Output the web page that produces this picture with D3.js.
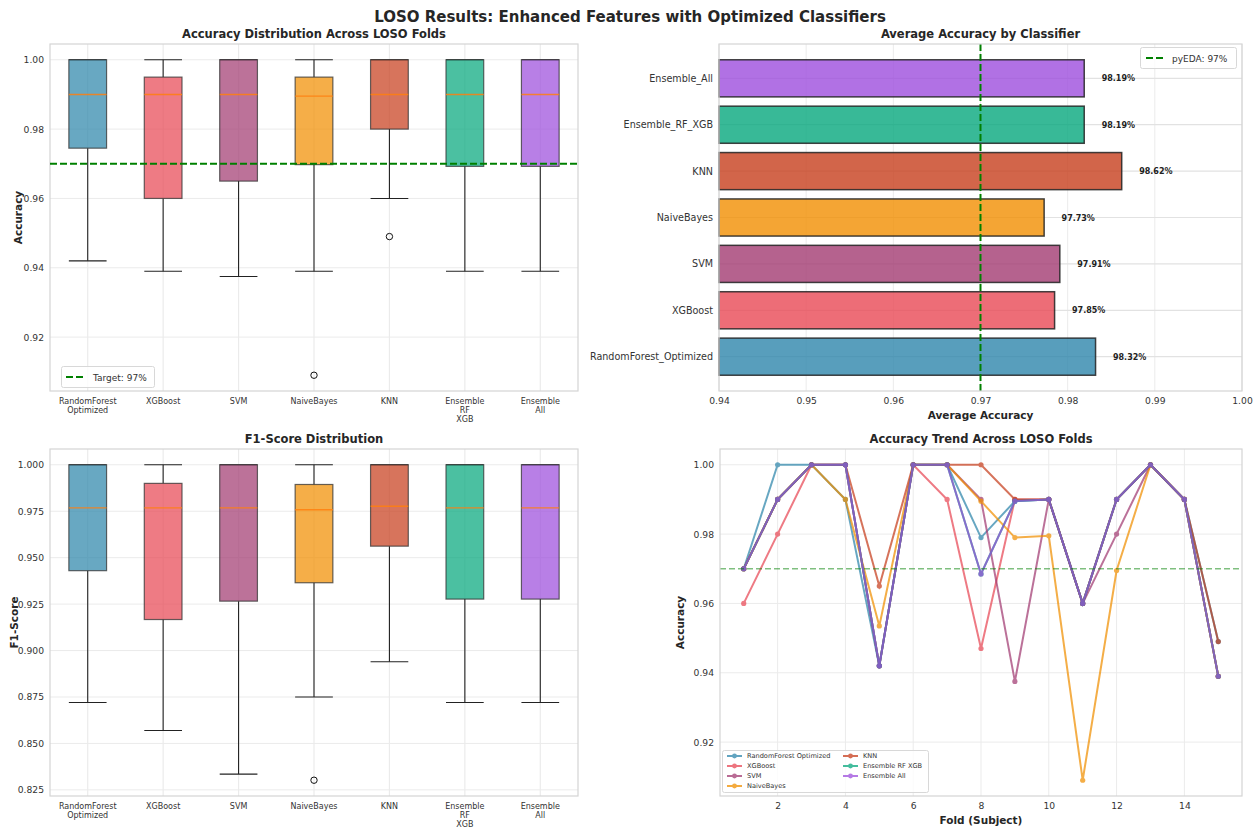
<!DOCTYPE html>
<html>
<head>
<meta charset="utf-8">
<script src="https://cdn.jsdelivr.net/npm/d3@7"></script>
<style>
  body { margin: 0; background: #fff; }
  svg { font-family: "DejaVu Sans", sans-serif; }
</style>
</head>
<body>
<svg id="chart" width="1259" height="830"></svg>
<script>
// ---- data ----
const classifiers = ["RandomForest_Optimized", "XGBoost", "SVM", "NaiveBayes", "KNN", "Ensemble_RF_XGB", "Ensemble_All"];
const boxLabels = [["RandomForest", "Optimized"], ["XGBoost"], ["SVM"], ["NaiveBayes"], ["KNN"], ["Ensemble", "RF", "XGB"], ["Ensemble", "All"]];
const legendNames = ["RandomForest Optimized", "XGBoost", "SVM", "NaiveBayes", "KNN", "Ensemble RF XGB", "Ensemble All"];
const colors = ["#2E86AB", "#E84855", "#A23B72", "#F18F01", "#C73E1D", "#06A77D", "#9D4EDD"];
const folds = d3.range(1, 16);

// per-fold LOSO accuracy
const accRF      = [0.970, 1.000, 1.000, 0.990, 0.942, 1.000, 1.000, 0.979, 0.9895, 0.990, 0.960, 0.990, 1.000, 0.990, 0.949];
const accXGB     = [0.960, 0.980, 1.000, 1.000, 0.942, 1.000, 0.990, 0.947, 0.990, 0.990, 0.960, 0.990, 1.000, 0.990, 0.939];
const accSVM     = [0.970, 0.990, 1.000, 1.000, 0.942, 1.000, 1.000, 0.990, 0.9375, 0.990, 0.960, 0.980, 1.000, 0.990, 0.939];
const accNB      = [0.970, 0.990, 1.000, 0.990, 0.9535, 1.000, 1.000, 0.9895, 0.979, 0.9795, 0.909, 0.9695, 1.000, 0.990, 0.939];
const accKNN     = [0.970, 0.990, 1.000, 1.000, 0.965, 1.000, 1.000, 1.000, 0.990, 0.990, 0.960, 0.990, 1.000, 0.990, 0.949];
const accEnsRFXGB = [0.970, 0.990, 1.000, 1.000, 0.942, 1.000, 1.000, 0.9685, 0.9895, 0.990, 0.960, 0.990, 1.000, 0.990, 0.939];
const accEnsAll  = [0.970, 0.990, 1.000, 1.000, 0.942, 1.000, 1.000, 0.9685, 0.9895, 0.990, 0.960, 0.990, 1.000, 0.990, 0.939];
const accSeries = [accRF, accXGB, accSVM, accNB, accKNN, accEnsRFXGB, accEnsAll];

// mean accuracy per classifier
const meanAcc = [0.9832, 0.9785, 0.9791, 0.9773, 0.9862, 0.9819, 0.9819];

// F1-score distribution summaries
const f1Low      = [0.872, 0.857, 0.8335, 0.875, 0.894, 0.872, 0.872];
const f1Q1       = [0.943, 0.9167, 0.9266, 0.9365, 0.9562, 0.9277, 0.9277];
const f1Median   = [0.9768, 0.9768, 0.9768, 0.9758, 0.9777, 0.9768, 0.9768];
const f1Q3       = [1.000, 0.990, 1.000, 0.9894, 1.000, 1.000, 1.000];
const f1High     = [1.000, 1.000, 1.000, 1.000, 1.000, 1.000, 1.000];
const f1Outliers = [[], [], [], [0.8302], [], [], []];

const target = 0.97;
const accTicks = [0.92, 0.94, 0.96, 0.98, 1.00];
const f1Ticks = [0.825, 0.850, 0.875, 0.900, 0.925, 0.950, 0.975, 1.000];
const barTicks = [0.94, 0.95, 0.96, 0.97, 0.98, 0.99, 1.00];
const foldTicks = [2, 4, 6, 8, 10, 12, 14];

// ---- helpers ----
const svg = d3.select("#chart");
const GRID = "#ebebeb", SPINE = "#d4d4d4", TXT = "#333";
const TICK_FS = 9.2;

function frame(g, x0, y0, w, h) {
  g.append("rect").attr("x", x0).attr("y", y0).attr("width", w).attr("height", h)
    .attr("fill", "none").attr("stroke", SPINE).attr("stroke-width", 1.2);
}
function title(text, x, y, size) {
  svg.append("text").attr("x", x).attr("y", y).attr("text-anchor", "middle")
    .attr("font-weight", "bold").attr("font-size", size || 11.5).attr("fill", "#262626").text(text);
}
function yAxis(g, scale, ticks, fmt, x0, x1) {
  const ax = d3.axisLeft(scale).tickValues(ticks).tickFormat(fmt).tickSize(0).tickPadding(6);
  const a = g.append("g").attr("transform", `translate(${x0},0)`).call(ax);
  a.select(".domain").remove();
  a.selectAll("text").attr("font-size", TICK_FS).attr("fill", TXT).attr("font-family", "DejaVu Sans");
  g.append("g").selectAll("line").data(ticks).join("line")
    .attr("x1", x0).attr("x2", x1).attr("y1", d => scale(d)).attr("y2", d => scale(d))
    .attr("stroke", GRID).attr("stroke-width", 1);
}
function boxStats(values) {
  const s = values.slice().sort(d3.ascending);
  const q1 = d3.quantile(s, 0.25), med = d3.quantile(s, 0.5), q3 = d3.quantile(s, 0.75);
  const iqr = q3 - q1;
  const inside = s.filter(v => v >= q1 - 1.5 * iqr && v <= q3 + 1.5 * iqr);
  return { low: d3.min(inside), q1, med, q3, high: d3.max(inside),
           out: s.filter(v => v < q1 - 1.5 * iqr || v > q3 + 1.5 * iqr) };
}
function boxPanel(stats, x0, y0, w, h, domain, ticks, fmt, ylabel, ylabelX, ttl) {
  const g = svg.append("g");
  const x = d3.scaleBand().domain(d3.range(classifiers.length)).range([x0, x0 + w]);
  const y = d3.scaleLinear().domain(domain).range([y0 + h, y0]);
  title(ttl, x0 + w / 2, y0 - 6);
  yAxis(g, y, ticks, fmt, x0, x0 + w);
  // vertical grid at category centres
  g.append("g").selectAll("line").data(d3.range(classifiers.length)).join("line")
    .attr("x1", i => x(i) + x.bandwidth() / 2).attr("x2", i => x(i) + x.bandwidth() / 2)
    .attr("y1", y0).attr("y2", y0 + h).attr("stroke", GRID).attr("stroke-width", 1.2);
  const bw = x.bandwidth() * 0.5;
  stats.forEach((s, i) => {
    const cx = x(i) + x.bandwidth() / 2;
    const b = g.append("g");
    b.append("line").attr("x1", cx).attr("x2", cx).attr("y1", y(s.q1)).attr("y2", y(s.low)).attr("stroke", "#222").attr("stroke-width", 1.1);
    b.append("line").attr("x1", cx).attr("x2", cx).attr("y1", y(s.q3)).attr("y2", y(s.high)).attr("stroke", "#222").attr("stroke-width", 1.1);
    b.append("line").attr("x1", cx - bw / 2).attr("x2", cx + bw / 2).attr("y1", y(s.low)).attr("y2", y(s.low)).attr("stroke", "#222").attr("stroke-width", 1.1);
    b.append("line").attr("x1", cx - bw / 2).attr("x2", cx + bw / 2).attr("y1", y(s.high)).attr("y2", y(s.high)).attr("stroke", "#222").attr("stroke-width", 1.1);
    b.append("rect").attr("x", cx - bw / 2).attr("width", bw)
      .attr("y", y(s.q3)).attr("height", Math.max(0.5, y(s.q1) - y(s.q3)))
      .attr("fill", colors[i]).attr("fill-opacity", 0.72)
      .attr("stroke", "#333").attr("stroke-opacity", 0.75).attr("stroke-width", 1.2);
    b.append("line").attr("x1", cx - bw / 2).attr("x2", cx + bw / 2).attr("y1", y(s.med)).attr("y2", y(s.med))
      .attr("stroke", "#ff7f0e").attr("stroke-opacity", 0.85).attr("stroke-width", 1.4);
    b.selectAll("circle").data(s.out).join("circle")
      .attr("cx", cx).attr("cy", d => y(d)).attr("r", 3.2)
      .attr("fill", "none").attr("stroke", "#111").attr("stroke-width", 1);
  });
  // category labels
  boxLabels.forEach((lines, i) => {
    const t = g.append("text").attr("x", x(i) + x.bandwidth() / 2).attr("y", y0 + h + 13)
      .attr("text-anchor", "middle").attr("font-size", 8).attr("fill", TXT);
    lines.forEach((ln, k) => t.append("tspan").attr("x", x(i) + x.bandwidth() / 2).attr("dy", k ? 9.2 : 0).text(ln));
  });
  svg.append("text").attr("transform", `translate(${ylabelX},${y0 + h / 2}) rotate(-90)`)
    .attr("text-anchor", "middle").attr("font-weight", "bold").attr("font-size", 10.5).attr("fill", "#262626").text(ylabel);
  frame(g, x0, y0, w, h);
  return { g, x, y };
}

// ---- suptitle ----
title("LOSO Results: Enhanced Features with Optimized Classifiers", 630, 22, 15);

// ---- panel 1: accuracy boxes ----
const p1 = boxPanel(accSeries.map(boxStats), 50, 44, 528, 347, [0.90445, 1.00455], accTicks, d3.format(".2f"),
  "Accuracy", 22, "Accuracy Distribution Across LOSO Folds");
p1.g.append("line").attr("x1", 50).attr("x2", 578).attr("y1", p1.y(target)).attr("y2", p1.y(target))
  .attr("stroke", "#008000").attr("stroke-width", 2).attr("stroke-dasharray", "7,3");
{
  const lg = p1.g.append("g");
  lg.append("rect").attr("x", 61.5).attr("y", 366.5).attr("width", 93).attr("height", 21).attr("rx", 2)
    .attr("fill", "#fff").attr("fill-opacity", 0.8).attr("stroke", "#d8d8d8");
  lg.append("line").attr("x1", 66).attr("x2", 84).attr("y1", 377).attr("y2", 377)
    .attr("stroke", "#008000").attr("stroke-width", 2).attr("stroke-dasharray", "7,3");
  lg.append("text").attr("x", 93).attr("y", 380.5).attr("font-size", 9).attr("fill", TXT).text("Target: 97%");
}

// ---- panel 3: F1 boxes ----
const f1Stats = classifiers.map((c, i) => ({ low: f1Low[i], q1: f1Q1[i], med: f1Median[i], q3: f1Q3[i], high: f1High[i], out: f1Outliers[i] }));
boxPanel(f1Stats, 50, 449, 528, 347, [0.8217, 1.0085], f1Ticks, d3.format(".3f"), "F1-Score", 17.5, "F1-Score Distribution");

// ---- panel 2: mean accuracy bars ----
{
  const x0 = 719, y0 = 44, w = 523, h = 347;
  const g = svg.append("g");
  const x = d3.scaleLinear().domain([0.94, 1.00]).range([x0, x0 + w]);
  const y = d3.scaleLinear().domain([-0.74, 6.74]).range([y0 + h, y0]);
  title("Average Accuracy by Classifier", x0 + w / 2, y0 - 6);
  g.append("g").selectAll("line").data(barTicks).join("line")
    .attr("x1", d => x(d)).attr("x2", d => x(d)).attr("y1", y0).attr("y2", y0 + h).attr("stroke", GRID);
  g.append("g").selectAll("line").data(d3.range(classifiers.length)).join("line")
    .attr("x1", x0).attr("x2", x0 + w).attr("y1", i => y(i)).attr("y2", i => y(i)).attr("stroke", "#e2e2e2").attr("stroke-width", 1.2);
  const bh = y(0) - y(0.8);
  g.append("g").selectAll("rect").data(meanAcc).join("rect")
    .attr("x", x(0.94)).attr("y", (d, i) => y(i) - bh / 2).attr("width", d => x(d) - x(0.94)).attr("height", bh)
    .attr("fill", (d, i) => colors[i]).attr("fill-opacity", 0.8)
    .attr("stroke", "#222").attr("stroke-opacity", 0.85).attr("stroke-width", 1.5);
  g.append("g").selectAll("text").data(meanAcc).join("text")
    .attr("x", d => x(d + 0.002)).attr("y", (d, i) => y(i) + 3)
    .attr("font-size", 8).attr("font-weight", "bold").attr("fill", "#222")
    .text(d => (d * 100).toFixed(2) + "%");
  const ay = d3.axisLeft(y).tickValues(d3.range(classifiers.length)).tickFormat(i => classifiers[i]).tickSize(0).tickPadding(6);
  const a1 = g.append("g").attr("transform", `translate(${x0},0)`).call(ay);
  a1.select(".domain").remove();
  a1.selectAll("text").attr("font-size", 9.6).attr("fill", TXT).attr("font-family", "DejaVu Sans");
  const ax = d3.axisBottom(x).tickValues(barTicks).tickFormat(d3.format(".2f")).tickSize(0).tickPadding(6);
  const a2 = g.append("g").attr("transform", `translate(0,${y0 + h})`).call(ax);
  a2.select(".domain").remove();
  a2.selectAll("text").attr("font-size", TICK_FS).attr("fill", TXT).attr("font-family", "DejaVu Sans");
  svg.append("text").attr("x", x0 + w / 2).attr("y", 419).attr("text-anchor", "middle")
    .attr("font-weight", "bold").attr("font-size", 10.5).attr("fill", "#262626").text("Average Accuracy");
  g.append("line").attr("x1", x(target)).attr("x2", x(target)).attr("y1", y0).attr("y2", y0 + h)
    .attr("stroke", "#008000").attr("stroke-width", 2).attr("stroke-dasharray", "7,3");
  const lg = g.append("g");
  lg.append("rect").attr("x", 1140.5).attr("y", 47.5).attr("width", 96).attr("height", 21).attr("rx", 2)
    .attr("fill", "#fff").attr("fill-opacity", 0.8).attr("stroke", "#d8d8d8");
  lg.append("line").attr("x1", 1146).attr("x2", 1164).attr("y1", 58).attr("y2", 58)
    .attr("stroke", "#008000").attr("stroke-width", 2).attr("stroke-dasharray", "7,3");
  lg.append("text").attr("x", 1172).attr("y", 61.5).attr("font-size", 9).attr("fill", TXT).text("pyEDA: 97%");
  frame(g, x0, y0, w, h);
}

// ---- panel 4: per-fold trend ----
{
  const x0 = 720, y0 = 449, w = 522, h = 347;
  const g = svg.append("g");
  const x = d3.scaleLinear().domain([0.3, 15.7]).range([x0, x0 + w]);
  const y = d3.scaleLinear().domain([0.90445, 1.00455]).range([y0 + h, y0]);
  title("Accuracy Trend Across LOSO Folds", x0 + w / 2, y0 - 6);
  g.append("g").selectAll("line").data(foldTicks).join("line")
    .attr("x1", d => x(d)).attr("x2", d => x(d)).attr("y1", y0).attr("y2", y0 + h).attr("stroke", GRID);
  yAxis(g, y, accTicks, d3.format(".2f"), x0, x0 + w);
  const ax = d3.axisBottom(x).tickValues(foldTicks).tickSize(0).tickPadding(6);
  const a2 = g.append("g").attr("transform", `translate(0,${y0 + h})`).call(ax);
  a2.select(".domain").remove();
  a2.selectAll("text").attr("font-size", TICK_FS).attr("fill", TXT).attr("font-family", "DejaVu Sans");
  svg.append("text").attr("x", x0 + w / 2).attr("y", 824).attr("text-anchor", "middle")
    .attr("font-weight", "bold").attr("font-size", 10.5).attr("fill", "#262626").text("Fold (Subject)");
  svg.append("text").attr("transform", `translate(${x0 - 36},${y0 + h / 2}) rotate(-90)`)
    .attr("text-anchor", "middle").attr("font-weight", "bold").attr("font-size", 10.5).attr("fill", "#262626").text("Accuracy");
  const line = d3.line().x((d, i) => x(folds[i])).y(d => y(d));
  accSeries.forEach((s, k) => {
    const sg = g.append("g").attr("opacity", 0.72);
    sg.append("path").attr("d", line(s)).attr("fill", "none").attr("stroke", colors[k]).attr("stroke-width", 2);
    sg.selectAll("circle").data(s).join("circle")
      .attr("cx", (d, i) => x(folds[i])).attr("cy", d => y(d)).attr("r", 2.6).attr("fill", colors[k]);
  });
  g.append("line").attr("x1", x0).attr("x2", x0 + w).attr("y1", y(target)).attr("y2", y(target))
    .attr("stroke", "#008000").attr("stroke-opacity", 0.5).attr("stroke-width", 1.5).attr("stroke-dasharray", "6,3");
  // legend, two columns
  const lg = g.append("g");
  lg.append("rect").attr("x", 722.5).attr("y", 750.5).attr("width", 206).attr("height", 42).attr("rx", 2)
    .attr("fill", "#fff").attr("fill-opacity", 0.8).attr("stroke", "#d8d8d8");
  legendNames.forEach((name, k) => {
    const col = k < 4 ? 0 : 1, row = k < 4 ? k : k - 4;
    const lx = col ? 843 : 727, ly = 756 + row * 10;
    const e = lg.append("g").attr("opacity", 0.75);
    e.append("line").attr("x1", lx).attr("x2", lx + 15).attr("y1", ly).attr("y2", ly).attr("stroke", colors[k]).attr("stroke-width", 2);
    e.append("circle").attr("cx", lx + 7.5).attr("cy", ly).attr("r", 2.4).attr("fill", colors[k]);
    lg.append("text").attr("x", lx + 20).attr("y", ly + 2.3).attr("font-size", 6.6).attr("fill", TXT).text(name);
  });
  frame(g, x0, y0, w, h);
}
</script>
</body>
</html>
